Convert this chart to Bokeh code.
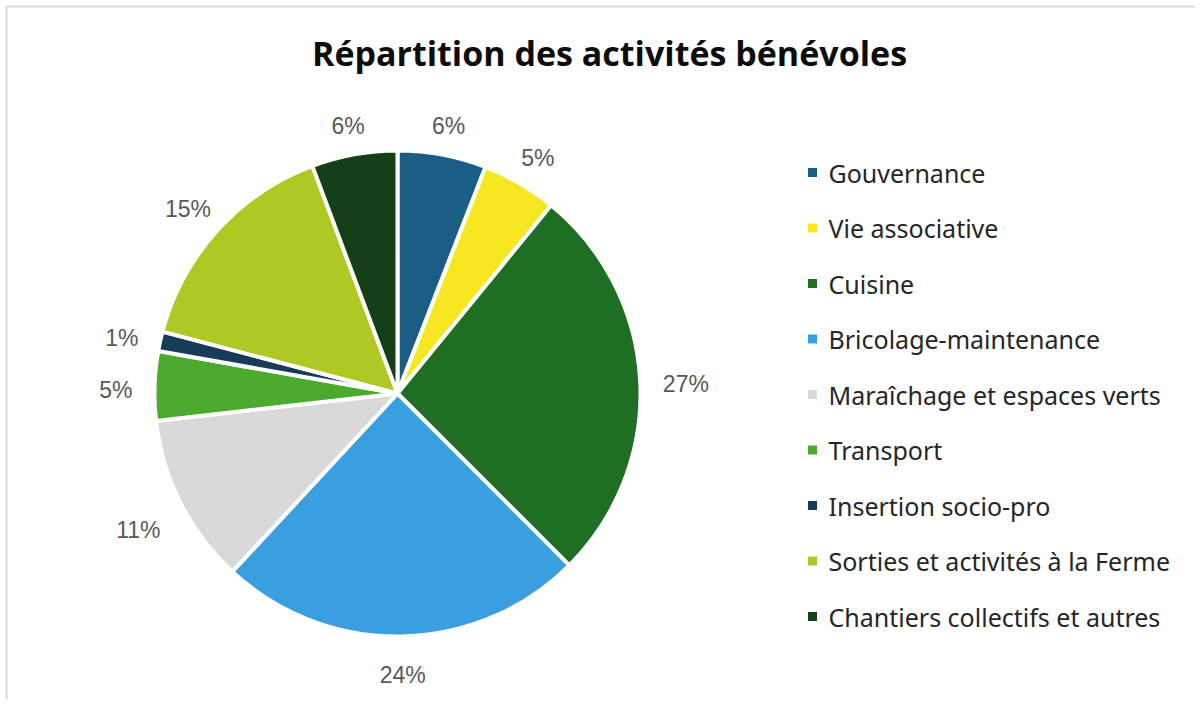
import math
from bokeh.plotting import figure
from bokeh.models import Range1d, ColumnDataSource
from bokeh.core.properties import value
from bokeh.embed import file_html
from bokeh.resources import INLINE

# ---- data ----
categories = ["Gouvernance", "Vie associative", "Cuisine", "Bricolage-maintenance",
              "Maraîchage et espaces verts", "Transport", "Insertion socio-pro",
              "Sorties et activités à la Ferme", "Chantiers collectifs et autres"]
shares = [5.9, 5.0, 26.6, 24.4, 11.3, 4.6, 1.3, 15.2, 5.7]
pct_labels = ["6%", "5%", "27%", "24%", "11%", "5%", "1%", "15%", "6%"]
colors = ["#1b5e85", "#f6e721", "#1e6e24", "#3a9fe0", "#d9d9d9",
          "#4caa2f", "#183b59", "#b0c823", "#143f17"]
title_text = "Répartition des activités bénévoles"

W, H = 1195, 699
p = figure(width=W, height=H, output_backend="svg", toolbar_location=None,
           x_range=Range1d(0, W), y_range=Range1d(0, H), min_border=0,
           tools="")
p.axis.visible = False
p.grid.visible = False
p.outline_line_color = None
p.background_fill_color = "white"
p.border_fill_color = "white"

def Y(py):
    return H - py

# chart-area border (top and left visible)
p.line([6, 6], [0, Y(6)], line_color="#d9d9d9", line_width=2)
p.line([6, W], [Y(6), Y(6)], line_color="#d9d9d9", line_width=2)

# pie geometry
cx, cy, R = 397, Y(393), 243
total = sum(shares)
starts, ends, mids = [], [], []
acc = 0.0
for s in shares:
    a0 = acc / total * 360.0
    acc += s
    a1 = acc / total * 360.0
    starts.append(90 - a0)
    ends.append(90 - a1)
    mids.append((a0 + a1) / 2)

src = ColumnDataSource(dict(start=starts, end=ends, color=colors, cat=categories))
p.wedge(x=cx, y=cy, radius=R, start_angle="start", end_angle="end",
        start_angle_units="deg", end_angle_units="deg", direction="clock",
        fill_color="color", line_color="white", line_width=4, source=src)

# percentage labels outside the pie
lx, ly = [], []
fs = 23
for lab, m in zip(pct_labels, mids):
    th = math.radians(m)
    sx, cyy = math.sin(th), math.cos(th)
    w2 = len(lab) * 0.6 * fs / 2 + 2
    h2 = 11
    d = min(w2 / max(abs(sx), 1e-6), h2 / max(abs(cyy), 1e-6))
    dist = R + 23 + d
    lx.append(cx + dist * sx)
    ly.append(cy + dist * cyy)
p.text(x=lx, y=ly, text=pct_labels, text_align="center", text_baseline="middle",
       y_offset=5, text_font=value("Liberation Sans"), text_font_size=f"{fs}px",
       text_color="#595959")

# title
p.text(x=[609], y=[Y(52)], text=[title_text], text_align="center",
       text_baseline="middle", text_font=value("Open Sans"),
       text_font_style="bold", text_font_size="34px", text_color="#0d0d0d")

# legend
ly0, step = Y(172), 55.5
leg_y = [ly0 - i * step for i in range(len(categories))]
p.scatter(x=[812] * len(categories), y=leg_y, marker="square", size=9,
          fill_color=colors, line_color=None)
p.text(x=[828] * len(categories), y=leg_y, text=categories, text_align="left",
       text_baseline="middle", text_font=value("Noto Sans"),
       text_font_size="25px", text_color="#262626")

open("out.html", "w").write(file_html(p, INLINE))
